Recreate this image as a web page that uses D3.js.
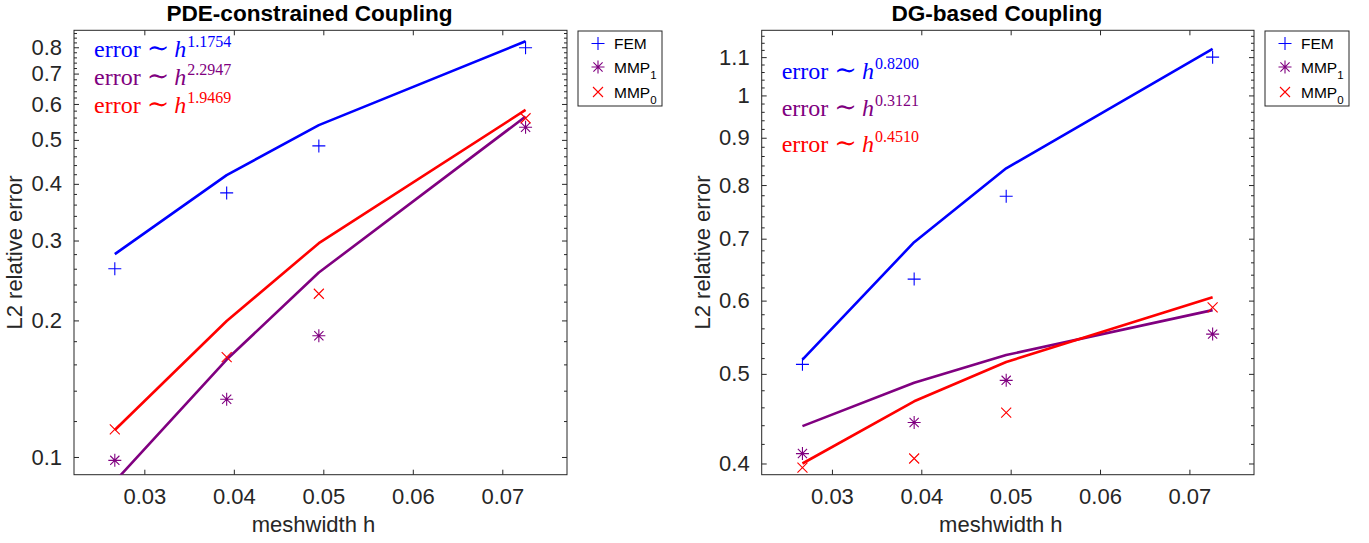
<!DOCTYPE html>
<html>
<head>
<meta charset="utf-8">
<script src="https://cdn.jsdelivr.net/npm/d3@7"></script>
<style>
  body { margin: 0; background: #ffffff; }
  svg { display: block; }
</style>
</head>
<body>
<svg id="chart" width="1369" height="543"></svg>
<script>
// mesh widths shared by both studies
const meshwidth = [0.0267, 0.0392, 0.0495, 0.0726];

// PDE-constrained coupling: measured errors and fitted rates
const pdeFemErr  = [0.260, 0.382, 0.485, 0.798];
const pdeFemFit  = [0.280, 0.418, 0.539, 0.825];
const pdeMmp1Err = [0.0983, 0.134, 0.185, 0.533];
const pdeMmp1Fit = [0.0883, 0.164, 0.255, 0.563];
const pdeMmp0Err = [0.115, 0.166, 0.229, 0.558];
const pdeMmp0Fit = [0.1147, 0.1994, 0.296, 0.582];
const pdeRates   = ["1.1754", "2.2947", "1.9469"];

// DG-based coupling
const dgFemErr  = [0.512, 0.633, 0.778, 1.100];
const dgFemFit  = [0.518, 0.694, 0.834, 1.123];
const dgMmp1Err = [0.410, 0.443, 0.492, 0.552];
const dgMmp1Fit = [0.439, 0.489, 0.524, 0.586];
const dgMmp0Err = [0.396, 0.405, 0.454, 0.590];
const dgMmp0Fit = [0.400, 0.467, 0.515, 0.605];
const dgRates   = ["0.8200", "0.3121", "0.4510"];

// tick labels
const xTicks    = [0.03, 0.04, 0.05, 0.06, 0.07];
const pdeYTicks = [0.1, 0.2, 0.3, 0.4, 0.5, 0.6, 0.7, 0.8];
const dgYTicks  = [0.4, 0.5, 0.6, 0.7, 0.8, 0.9, 1, 1.1];

const seriesNames  = ["FEM", "MMP", "MMP"];
const seriesSubs   = ["", "1", "0"];
const seriesColors = ["#0000ff", "#800080", "#ff0000"];
const seriesMarks  = ["plus", "star", "cross"];

const AXIS_COLOR = "#262626";
const SANS = "'Liberation Sans', Arial, Helvetica, sans-serif";
const SERIF = "'Liberation Serif', 'Times New Roman', serif";

const svg = d3.select("#chart");

function markerPath(kind) {
  const p = d3.path();
  if (kind === "plus") {
    p.moveTo(-6.5, 0); p.lineTo(6.5, 0);
    p.moveTo(0, -6.5); p.lineTo(0, 6.5);
  } else if (kind === "cross") {
    p.moveTo(-5, -5); p.lineTo(5, 5);
    p.moveTo(-5, 5); p.lineTo(5, -5);
  } else {
    p.moveTo(-6.5, 0); p.lineTo(6.5, 0);
    p.moveTo(0, -6.5); p.lineTo(0, 6.5);
    p.moveTo(-4.6, -4.6); p.lineTo(4.6, 4.6);
    p.moveTo(-4.6, 4.6); p.lineTo(4.6, -4.6);
  }
  return p.toString();
}

function drawPanel(cfg) {
  const x = d3.scaleLinear().domain([0.02214, 0.07723]).range([cfg.left, cfg.right]);
  const y = d3.scaleLog().domain(cfg.yDomain).range([cfg.bottom, cfg.top]);
  const g = svg.append("g");
  const w = cfg.right - cfg.left, h = cfg.bottom - cfg.top;
  const midX = (cfg.left + cfg.right) / 2;

  const clipId = "clip-" + cfg.id;
  svg.append("defs").append("clipPath").attr("id", clipId)
    .append("rect").attr("x", cfg.left).attr("y", cfg.top).attr("width", w).attr("height", h);

  // minor ticks every 0.02 on the log axis
  const [lo, hi] = cfg.yDomain;
  const minor = d3.range(Math.ceil(lo / 0.02 - 1e-9), Math.floor(hi / 0.02 + 1e-9) + 1)
    .map(k => +(k * 0.02).toFixed(2))
    .filter(v => !cfg.yTicks.some(t => Math.abs(t - v) < 1e-9));

  const styleAxis = sel => {
    sel.select(".domain").remove();
    sel.selectAll(".tick line").attr("stroke", AXIS_COLOR).attr("stroke-width", 1);
    sel.selectAll(".tick text").attr("fill", AXIS_COLOR)
      .attr("font-family", SANS).attr("font-size", 22);
  };

  g.append("g").attr("transform", `translate(0,${cfg.bottom})`)
    .call(d3.axisBottom(x).tickValues(xTicks).tickSize(-5).tickPadding(14).tickFormat(d3.format(".2f")))
    .call(styleAxis)
    .selectAll(".tick text").attr("dy", "0.71em");
  g.append("g").attr("transform", `translate(0,${cfg.top})`)
    .call(d3.axisTop(x).tickValues(xTicks).tickSize(-5).tickFormat(""))
    .call(styleAxis);
  g.append("g").attr("transform", `translate(${cfg.left},0)`)
    .call(d3.axisLeft(y).tickValues(cfg.yTicks).tickSize(-5).tickPadding(12).tickFormat(d => String(d)))
    .call(styleAxis);
  g.append("g").attr("transform", `translate(${cfg.right},0)`)
    .call(d3.axisRight(y).tickValues(cfg.yTicks).tickSize(-5).tickFormat(""))
    .call(styleAxis);
  g.append("g").attr("transform", `translate(${cfg.left},0)`)
    .call(d3.axisLeft(y).tickValues(minor).tickSize(-3).tickFormat(""))
    .call(styleAxis);
  g.append("g").attr("transform", `translate(${cfg.right},0)`)
    .call(d3.axisRight(y).tickValues(minor).tickSize(-3).tickFormat(""))
    .call(styleAxis);

  // axes box
  g.append("rect").attr("x", cfg.left).attr("y", cfg.top).attr("width", w).attr("height", h)
    .attr("fill", "none").attr("stroke", AXIS_COLOR).attr("stroke-width", 1);

  // fitted lines and measured errors
  const plot = g.append("g").attr("clip-path", `url(#${clipId})`);
  const line = d3.line().x((d, i) => x(meshwidth[i])).y(d => y(d));
  cfg.fits.forEach((fit, k) => {
    plot.append("path").datum(fit).attr("d", line)
      .attr("fill", "none").attr("stroke", seriesColors[k]).attr("stroke-width", 2.6)
      .attr("stroke-linejoin", "round");
  });
  cfg.errs.forEach((err, k) => {
    plot.selectAll(null).data(err).enter().append("path")
      .attr("transform", (d, i) => `translate(${x(meshwidth[i])},${y(d)})`)
      .attr("d", markerPath(seriesMarks[k]))
      .attr("fill", "none").attr("stroke", seriesColors[k]).attr("stroke-width", 1.1);
  });

  // convergence-rate annotations
  cfg.rates.forEach((r, k) => {
    const t = g.append("text")
      .attr("x", cfg.left + 20).attr("y", cfg.annoY[k])
      .attr("font-family", SERIF).attr("font-size", 24).attr("fill", seriesColors[k]);
    t.append("tspan").text("error");
    t.append("tspan").attr("dx", 6).attr("font-family", "'DejaVu Serif', serif")
      .attr("font-size", 27).text("\u223C");
    t.append("tspan").attr("dx", 5).attr("font-style", "italic").text("h");
    t.append("tspan").attr("font-size", 16).attr("dx", 1).attr("dy", -10).text(r);
  });

  // title and axis labels
  g.append("text").attr("x", midX - 11).attr("y", 21)
    .attr("text-anchor", "middle").attr("font-family", SANS).attr("font-weight", "bold")
    .attr("font-size", 22.6).attr("fill", "#000").text(cfg.title);
  g.append("text").attr("x", midX - 7).attr("y", 532)
    .attr("text-anchor", "middle").attr("font-family", SANS)
    .attr("font-size", 22).attr("fill", AXIS_COLOR).text("meshwidth h");
  g.append("text")
    .attr("transform", `translate(${cfg.left - 52},${(cfg.top + cfg.bottom) / 2}) rotate(-90)`)
    .attr("text-anchor", "middle").attr("font-family", SANS)
    .attr("font-size", 22).attr("fill", AXIS_COLOR).text("L2 relative error");

  // legend
  const lg = g.append("g").attr("transform", `translate(${cfg.right + 11},31)`);
  lg.append("rect").attr("width", 84).attr("height", 75)
    .attr("fill", "#fff").attr("stroke", AXIS_COLOR).attr("stroke-width", 1);
  const rowsY = [12.5, 36, 61];
  seriesNames.forEach((name, k) => {
    lg.append("path").attr("transform", `translate(20,${rowsY[k]})`)
      .attr("d", markerPath(seriesMarks[k]))
      .attr("fill", "none").attr("stroke", seriesColors[k]).attr("stroke-width", 1.1);
    const t = lg.append("text").attr("x", 36).attr("y", rowsY[k] + 5.5)
      .attr("font-family", SANS).attr("font-size", 15.5).attr("fill", "#000");
    t.append("tspan").text(name);
    if (seriesSubs[k]) t.append("tspan").attr("font-size", 11.5).attr("dy", 6).text(seriesSubs[k]);
  });
}

drawPanel({
  id: "pde", title: "PDE-constrained Coupling",
  left: 74, right: 567, top: 30.3, bottom: 474.7,
  yDomain: [0.0914, 0.872], yTicks: pdeYTicks,
  fits: [pdeFemFit, pdeMmp1Fit, pdeMmp0Fit],
  errs: [pdeFemErr, pdeMmp1Err, pdeMmp0Err],
  rates: pdeRates, annoY: [57, 85, 113]
});

drawPanel({
  id: "dg", title: "DG-based Coupling",
  left: 761.7, right: 1254, top: 30.3, bottom: 474.7,
  yDomain: [0.389, 1.176], yTicks: dgYTicks,
  fits: [dgFemFit, dgMmp1Fit, dgMmp0Fit],
  errs: [dgFemErr, dgMmp1Err, dgMmp0Err],
  rates: dgRates, annoY: [79, 116, 152]
});
</script>
</body>
</html>
